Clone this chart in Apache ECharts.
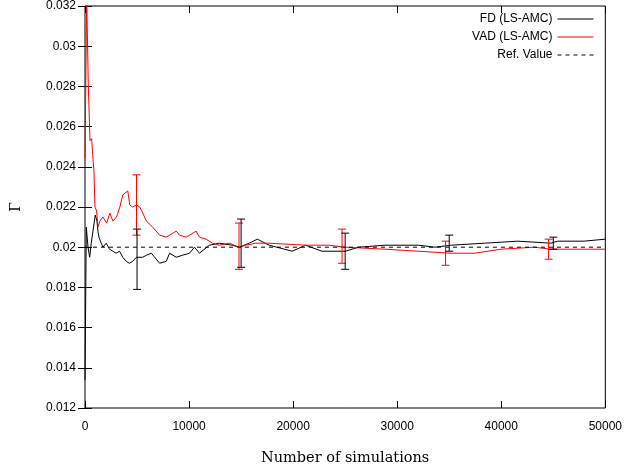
<!DOCTYPE html>
<html>
<head>
<meta charset="utf-8">
<script src="https://cdn.jsdelivr.net/npm/echarts@6/dist/echarts.min.js"></script>
<style>
html,body{margin:0;padding:0;background:#fff;}
#c{width:625px;height:473px;}
</style>
</head>
<body>
<div id="c"></div>
<script>
// ---- data ----
var fdX = [0,125,290,450,600,765,985,1150,1240,1340,1560,1720,2040,2360,2680,2990,3320,3630,3950,4270,4590,4940,5545,5900,6380,7170,7810,8130,8770,9370,10040,10520,11000,11950,12900,14150,14820,15770,16570,17690,19910,21190,22780,25020,26290,28840,32030,33620,35210,38400,41590,44770,45410,47960,50000];
var fdY = [0.0134,0.021,0.02,0.0195,0.0202,0.0208,0.0216,0.0213,0.0208,0.0205,0.0202,0.02,0.0202,0.0199,0.0198,0.0197,0.0198,0.0195,0.0193,0.0192,0.0193,0.0195,0.0195,0.0196,0.0197,0.0192,0.0193,0.0197,0.0195,0.0196,0.0197,0.02,0.0197,0.0201,0.0202,0.0201,0.02,0.0202,0.0204,0.0201,0.0198,0.0201,0.0198,0.0198,0.02,0.0201,0.0201,0.02,0.0201,0.0202,0.0203,0.0202,0.0203,0.0203,0.0204];

var vadX = [0,160,315,480,640,735,860,955,1120,1240,1430,1720,2075,2390,2680,3030,3350,3630,4110,4300,4590,4940,5260,5545,5900,6500,7170,7810,8770,9080,9720,10680,11000,11630,12240,12900,13860,14820,15460,16410,17690,21190,23420,25020,28840,32030,35180,37450,39960,43180,44740,47960,50000];
var vadY = [0.0244,0.0325,0.0281,0.0253,0.0254,0.0246,0.0238,0.022,0.0218,0.021,0.0213,0.0215,0.0212,0.0217,0.0213,0.0215,0.022,0.0226,0.0228,0.0221,0.022,0.0221,0.022,0.0217,0.0213,0.021,0.0206,0.0205,0.0208,0.0206,0.0205,0.0208,0.0205,0.0204,0.0202,0.0201,0.0202,0.02,0.0201,0.0202,0.0202,0.0201,0.0201,0.02,0.0199,0.0198,0.0197,0.0197,0.0199,0.02,0.0199,0.0199,0.0199];

var refValue = 0.02;
var refX = [0, 50000];

var fdErrX = [5000,15000,25000,35000,45000];
var fdErrLow = [0.0179,0.019,0.0189,0.0198,0.0199];
var fdErrHigh = [0.0209,0.0214,0.0207,0.0206,0.0205];

var vadErrX = [4950,14800,24700,34650,44550];
var vadErrLow = [0.0206,0.0189,0.0192,0.0191,0.0194];
var vadErrHigh = [0.0236,0.0212,0.0209,0.0203,0.0204];

var seriesNames = ['FD (LS-AMC)','VAD (LS-AMC)','Ref. Value'];
var xTitle = 'Number of simulations';
var yTitle = '\u0393';

// ---- build ----
function zip(xs, ys){ return xs.map(function(x,i){ return [x, ys[i]]; }); }
function errData(xs, lo, hi){ return xs.map(function(x,i){ return [x, lo[i], hi[i]]; }); }
function errRender(color){
  return function(params, api){
    var x = api.value(0);
    var p1 = api.coord([x, api.value(1)]);
    var p2 = api.coord([x, api.value(2)]);
    var w = 4;
    var st = {stroke: color, lineWidth: 1};
    return {type:'group', children:[
      {type:'line', shape:{x1:p1[0],y1:p1[1],x2:p2[0],y2:p2[1]}, style:st},
      {type:'line', shape:{x1:p1[0]-w,y1:p1[1],x2:p1[0]+w,y2:p1[1]}, style:st},
      {type:'line', shape:{x1:p2[0]-w,y1:p2[1],x2:p2[0]+w,y2:p2[1]}, style:st}
    ]};
  };
}

var chart = echarts.init(document.getElementById('c'), null, {renderer:'canvas'});
var sans = 'Liberation Sans';
var serif = 'DejaVu Serif';
var tickStyle = {show:true, inside:true, length:7, lineStyle:{color:'#000', width:1}};

chart.setOption({
  animation:false,
  backgroundColor:'#fff',
  grid:{left:85, right:17, top:4, bottom:65, show:true, borderColor:'#000', borderWidth:1, backgroundColor:'transparent'},
  legend:{
    orient:'vertical', right:31, top:13, align:'right', padding:0,
    itemWidth:36, itemHeight:10, itemGap:6,
    itemStyle:{opacity:0, borderWidth:0},
    lineStyle:{width:1},
    textStyle:{fontFamily:sans, fontSize:12, color:'#000'},
    data:seriesNames
  },
  xAxis:[
    {type:'value', min:0, max:50000, interval:10000, position:'bottom',
     axisLine:{show:false}, axisTick:tickStyle, splitLine:{show:false},
     axisLabel:{fontFamily:sans, fontSize:12, color:'#000', margin:13, formatter:function(v){return String(v);}},
     name:xTitle, nameLocation:'middle', nameGap:43,
     nameTextStyle:{fontFamily:serif, fontSize:14.5, color:'#000'}},
    {type:'value', min:0, max:50000, interval:10000, position:'top',
     axisLine:{show:false}, axisTick:tickStyle, splitLine:{show:false}, axisLabel:{show:false}}
  ],
  yAxis:[
    {type:'value', min:0.012, max:0.032, interval:0.002, position:'left',
     axisLine:{show:false}, axisTick:tickStyle, splitLine:{show:false},
     axisLabel:{fontFamily:sans, fontSize:12, color:'#000', margin:9,
       formatter:function(v){return String(+v.toFixed(3));}},
     name:yTitle, nameLocation:'middle', nameGap:62, nameRotate:90,
     nameTextStyle:{fontFamily:serif, fontSize:14, color:'#000'}},
    {type:'value', min:0.012, max:0.032, interval:0.002, position:'right',
     axisLine:{show:false}, axisTick:tickStyle, splitLine:{show:false}, axisLabel:{show:false}}
  ],
  series:[
    {name:seriesNames[0], type:'line', data:zip(fdX, fdY), showSymbol:false, symbol:'none',
     lineStyle:{color:'#000', width:1}, itemStyle:{color:'#000'}, clip:true, z:3},
    {name:seriesNames[1], type:'line', data:zip(vadX, vadY), showSymbol:false, symbol:'none',
     lineStyle:{color:'#ff0000', width:1}, itemStyle:{color:'#ff0000'}, clip:true, z:4},
    {name:seriesNames[2], type:'line', data:refX.map(function(x){return [x, refValue];}), showSymbol:false, symbol:'none',
     lineStyle:{color:'#000', width:1, type:[4,4]}, itemStyle:{color:'#000'}, z:5},
    {type:'custom', renderItem:errRender('#ff0000'), data:errData(vadErrX, vadErrLow, vadErrHigh), z:6},
    {type:'custom', renderItem:errRender('#000'), data:errData(fdErrX, fdErrLow, fdErrHigh), z:7}
  ]
});
</script>
</body>
</html>
